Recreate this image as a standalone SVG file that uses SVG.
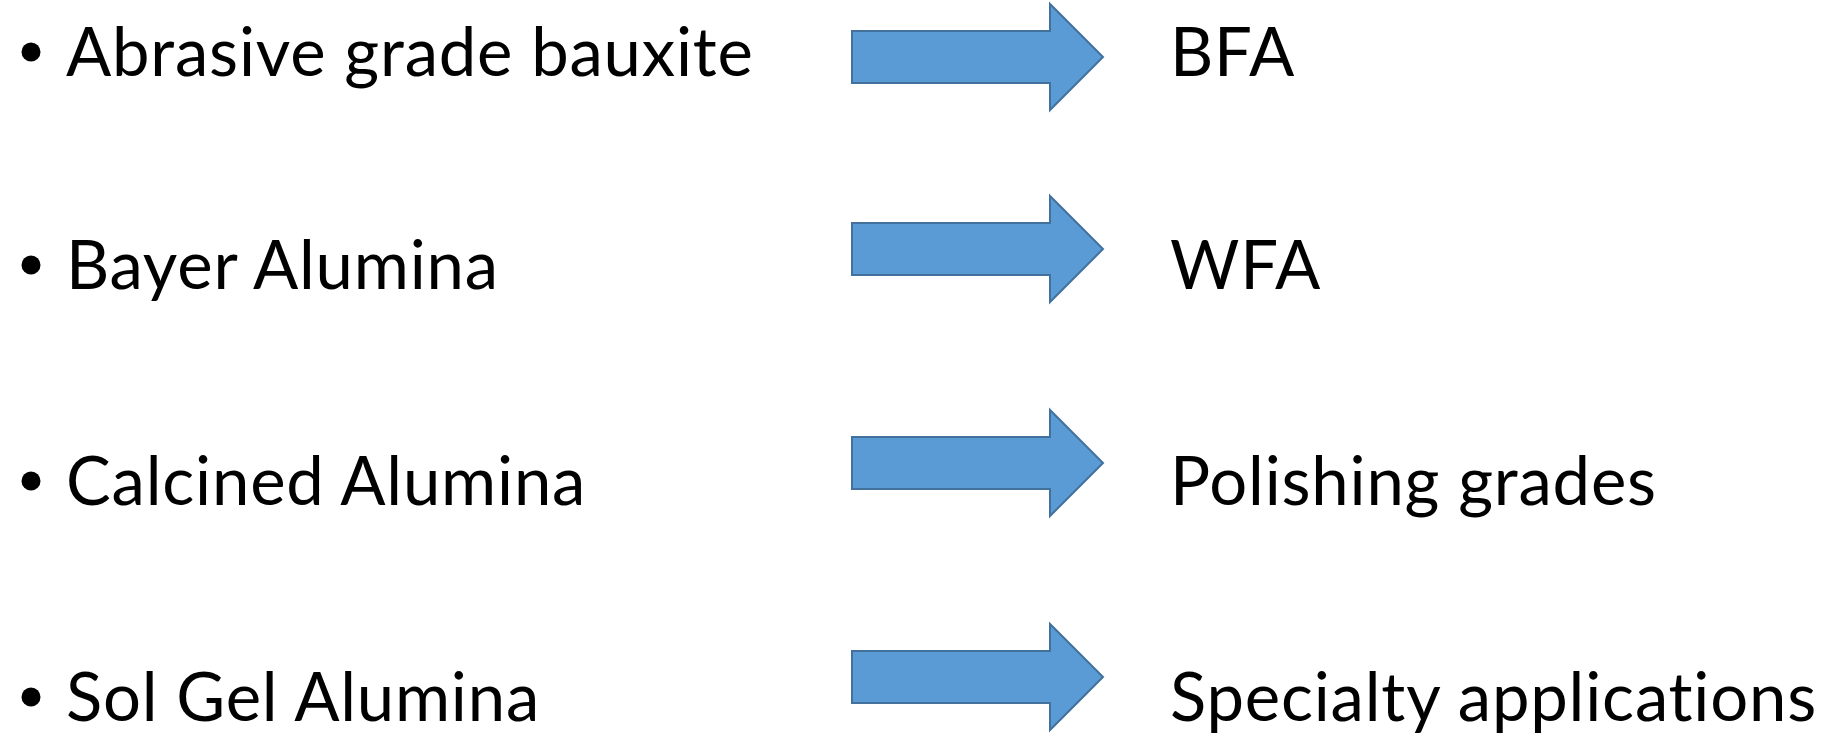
<svg xmlns="http://www.w3.org/2000/svg" xmlns:xlink="http://www.w3.org/1999/xlink" width="1832" height="733" viewBox="0 0 1832 733">
  <style>
    .t { font-family: Lato, "Open Sans", "Liberation Sans", sans-serif; font-size: 67px; letter-spacing: 0.8px; font-variant-ligatures: none; fill: #000000; }
    .blk { fill: #5B9BD5; stroke: #41719C; stroke-width: 2; stroke-linejoin: miter; }
    .dot { fill: #000000; }
  </style>
  <defs>
    <path id="blockArrow" d="M852,-26 H1050 V-53 L1103,0 L1050,53 V26 H852 Z"/>
  </defs>
  <rect x="0" y="0" width="1832" height="733" fill="#ffffff"/>

  <g id="src-abrasive">
    <circle class="dot" cx="31" cy="52" r="9.5"/>
    <text class="t" x="66" y="76">Abrasive grade bauxite</text>
  </g>
  <g id="src-bayer">
    <circle class="dot" cx="31" cy="265" r="9.5"/>
    <text class="t" x="66" y="289">Bayer Alumina</text>
  </g>
  <g id="src-calcined">
    <circle class="dot" cx="31" cy="481" r="9.5"/>
    <text class="t" x="66" y="505">Calcined Alumina</text>
  </g>
  <g id="src-solgel">
    <circle class="dot" cx="31" cy="697" r="9.5"/>
    <text class="t" x="66" y="721">Sol Gel Alumina</text>
  </g>

  <g id="dst-bfa">
    <text class="t" x="1170" y="76">BFA</text>
  </g>
  <g id="dst-wfa">
    <text class="t" x="1170" y="289">WFA</text>
  </g>
  <g id="dst-polishing">
    <text class="t" x="1170" y="505">Polishing grades</text>
  </g>
  <g id="dst-specialty">
    <text class="t" x="1170" y="721">Specialty applications</text>
  </g>

  <g id="connectors">
    <use xlink:href="#blockArrow" class="blk" transform="translate(0,57)"/>
    <use xlink:href="#blockArrow" class="blk" transform="translate(0,249)"/>
    <use xlink:href="#blockArrow" class="blk" transform="translate(0,463)"/>
    <use xlink:href="#blockArrow" class="blk" transform="translate(0,677)"/>
  </g>
</svg>
